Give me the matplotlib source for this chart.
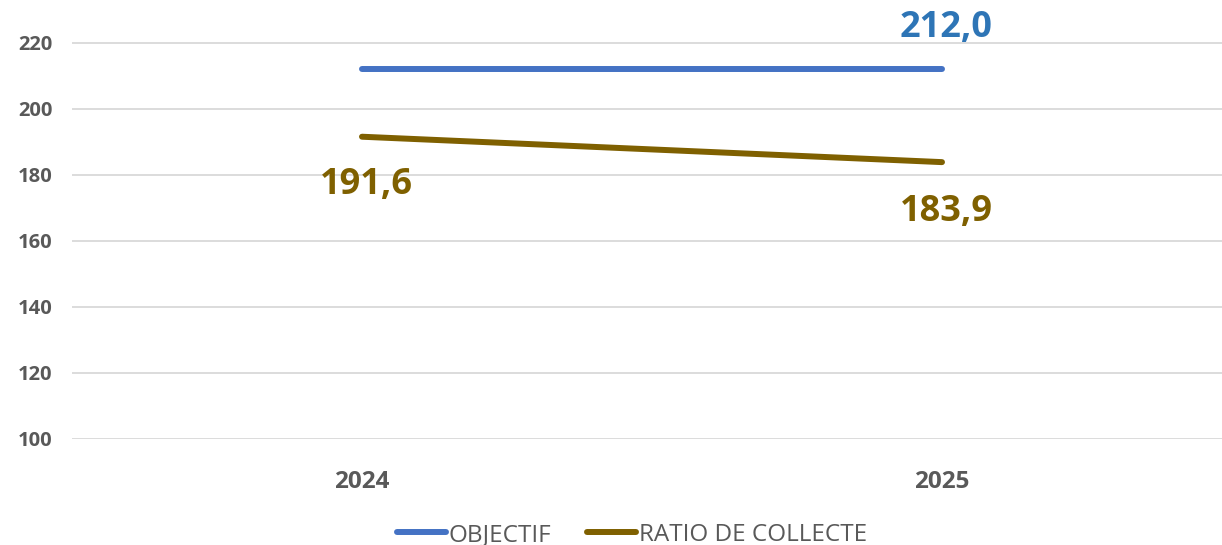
import matplotlib
matplotlib.use("Agg")
import matplotlib.pyplot as plt
from matplotlib.lines import Line2D

years = ["2024", "2025"]
objectif = [212.0, 212.0]
ratio = [191.6, 183.9]
yticks = [100, 120, 140, 160, 180, 200, 220]

W, H, DPI = 1222, 545, 100
fig = plt.figure(figsize=(W / DPI, H / DPI), dpi=DPI)
fig.patch.set_facecolor("white")

# axes in pixel coordinates: x 72..1232, y (from top) -23..439
left, right = 72, 1232
top, bottom = -23, 439
ax = fig.add_axes([left / W, (H - bottom) / H, (right - left) / W, (bottom - top) / H])
ax.set_facecolor("none")
ax.set_xlim(-0.5, 1.5)
ax.set_ylim(100, 240)
ax.set_yticks(yticks)
ax.yaxis.grid(True, color="#d9d9d9", linewidth=1.3)
ax.set_axisbelow(True)
for s in ax.spines.values():
    s.set_visible(False)
ax.tick_params(axis="both", length=0)
ax.tick_params(axis="y", pad=14, labelsize=14.5, labelcolor="#595959")
ax.tick_params(axis="x", pad=22, labelsize=17.5, labelcolor="#595959")

x = list(range(len(years)))
ax.set_xticks(x)
ax.set_xticklabels(years)
for lab in ax.get_yticklabels() + ax.get_xticklabels():
    lab.set_fontweight("bold")
    lab.set_fontfamily("Open Sans")

blue = "#4472C4"
brown = "#7F6000"
ax.plot(x, objectif, color=blue, lw=4.3, solid_capstyle="round", label="OBJECTIF")
ax.plot(x, ratio, color=brown, lw=4.3, solid_capstyle="round", label="RATIO DE COLLECTE")

lab_kw = dict(ha="center", va="center", fontsize=26, fontweight="bold", family="Open Sans")
ax.annotate(f"{objectif[1]:.1f}".replace(".", ","), (x[1], objectif[1]), xytext=(3, 30),
            textcoords="offset points", color="#2E75B6", **lab_kw)
ax.annotate(f"{ratio[0]:.1f}".replace(".", ","), (x[0], ratio[0]), xytext=(3, -35),
            textcoords="offset points", color=brown, **lab_kw)
ax.annotate(f"{ratio[1]:.1f}".replace(".", ","), (x[1], ratio[1]), xytext=(3, -36),
            textcoords="offset points", color=brown, **lab_kw)

handles = [Line2D([0], [0], color=blue, lw=4.3, solid_capstyle="round"),
           Line2D([0], [0], color=brown, lw=4.3, solid_capstyle="round")]
leg = fig.legend(handles, ["OBJECTIF", "RATIO DE COLLECTE"], loc="center",
                 bbox_to_anchor=(632 / W, 1 - 535 / H), ncol=2, frameon=False,
                 handlelength=2.0, handletextpad=0.1, columnspacing=1.5,
                 prop={"family": "Open Sans", "size": 17.5})
for t in leg.get_texts():
    t.set_color("#595959")

fig.savefig("out.png", dpi=DPI, facecolor="white")
